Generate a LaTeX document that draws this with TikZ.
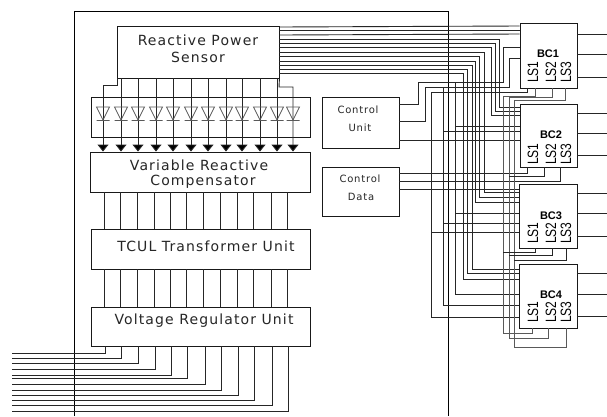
\documentclass[tikz,border=0pt]{standalone}
\usepackage{fontspec}
\setmainfont{DejaVu Sans}
\newfontfamily\lsfont{Liberation Sans}
\newfontfamily\capfont[LetterSpace=8]{DejaVu Sans}
\usetikzlibrary{arrows.meta}
\tikzset{
  box/.style={draw=black!90,line width=0.9pt,fill=white,rectangle,inner sep=0pt},
  wire/.style={draw=black!85,line width=0.9pt},
  graywire/.style={draw=black!65,line width=1pt},
  caption/.style={font=\capfont\fontsize{14}{16}\selectfont,inner sep=0pt,text=black!85},
  small caption/.style={font=\capfont\fontsize{10}{12}\selectfont,inner sep=0pt,text=black!85},
  bclabel/.style={font=\lsfont\bfseries\fontsize{11}{12}\selectfont,inner sep=0pt},
  lslabel/.style={font=\lsfont\fontsize{12}{12}\selectfont,inner sep=0pt,rotate=90},
  arrowwire/.style={wire,-{Triangle[length=7pt,width=11pt,fill=black]}},
  diodeshape/.style={draw=black!65,line width=0.8pt}
}
\begin{document}
\begin{tikzpicture}[x=1pt,y=-1pt]
\useasboundingbox (0,0) rectangle (607,416);
\fill[white] (0,0) rectangle (607,416);
\coordinate (R) at (607,0);
\coordinate (L) at (12,0);
% outer enclosure
\draw[wire,draw=black] (74,416) -- (74,11) -- (448,11) -- (448,416);
% boxes
\node[box,minimum width=162pt,minimum height=52pt] (sensor) at (198,52) {};
\node[box,minimum width=219pt,minimum height=40pt] (diodes) at (200.5,117) {};
\node[box,minimum width=220pt,minimum height=40pt] (variable) at (200,172) {};
\node[box,minimum width=219pt,minimum height=40pt] (tcul) at (200.5,249) {};
\node[box,minimum width=219pt,minimum height=39pt] (voltage) at (200.5,326.5) {};
\node[box,minimum width=77pt,minimum height=51pt] (cu) at (360.5,122.5) {};
\node[box,minimum width=77pt,minimum height=49pt] (cd) at (360.5,191.5) {};
\node[box,minimum width=57pt,minimum height=65pt] (bc1) at (548.5,55.5) {};
\node[box,minimum width=57pt,minimum height=63pt] (bc2) at (548.5,135.5) {};
\node[box,minimum width=58pt,minimum height=64pt] (bc3) at (548,216) {};
\node[box,minimum width=58pt,minimum height=64pt] (bc4) at (548,296) {};
% sensor to diode column
\draw[arrowwire] (sensor.south -| 117,0) -- (117,85) -- (103,85) -- (variable.north -| 103,0);
\foreach \x in {121,138,156,173,191,208,226,242,260,277}
  \draw[arrowwire] (sensor.south -| \x,0) -- (variable.north -| \x,0);
\draw[arrowwire] (sensor.south east) -- (279,87) -- (293,87) -- (variable.north -| 293,0);
% diodes
\foreach \x in {103,121,138,156,173,191,208,226,242,260,277,293}
  \draw[diodeshape] (\x-6.5,107) -- (\x+6.5,107) -- (\x,120) -- cycle (\x-6.5,120.5) -- (\x+6.5,120.5);
% vertical links
\foreach \x in {104,120,137,154,170,186,203,220,237,253,271,287} {
  \draw[wire] (variable.south -| \x,0) -- (tcul.north -| \x,0);
  \draw[wire] (tcul.south -| \x,0) -- (voltage.north -| \x,0);
}
% output bus
\foreach \x/\y in {105/353,121/358,138/363,155/369,171/375,187/378,205/384,221/390,238/395,254/400,272/405,288/411}
  \draw[wire] (voltage.south -| \x,0) |- (L |- 0,\y);
% sensor direct to BC1
\foreach \sy/\ey in {27/26,30/30,35/34}
  \draw[wire] (sensor.east |- 0,\sy) -- (bc1.west |- 0,\ey);
% sensor to BC2, BC3, BC4
\foreach \sy/\vx/\ey/\b in {39/499/107/bc2,43/495/111/bc2,47/491/115/bc2,52/484/192/bc3,56/479/197/bc3,61/475/202/bc3,65/472/269/bc4,69/467/273/bc4,73/463/279/bc4}
  \draw[wire] (sensor.east |- 0,\sy) -| (\vx,\ey) -- (\b.west |- 0,\ey);
% control unit
\draw[wire] (cu.east |- 0,104) -| (418,82) -| (503,47) -- (bc1.west |- 0,47);
\draw[wire] (cu.east |- 0,121) -| (425,87) -| (509,58) -- (bc1.west |- 0,58);
\draw[wire] (cu.east |- 0,140) -- (bc2.west |- 0,140);
\draw[wire] (bc1.south -| 527,0) |- (431,92) |- (bc4.west |- 0,317);
\draw[wire] (455,82) |- (bc4.west |- 0,294);
\draw[wire] (443,87) |- (bc4.west |- 0,305);
\draw[wire] (455,126) -- (bc2.west |- 0,126);
\draw[wire] (443,131) -- (bc2.west |- 0,131);
\draw[wire] (455,213) -- (bc3.west |- 0,213);
\draw[wire] (443,223) -- (bc3.west |- 0,223);
\draw[wire] (431,232) -- (bc3.west |- 0,232);
% control data
\draw[wire] (cd.east |- 0,173) -| (bc2.south -| 527,0);
\draw[wire] (cd.east |- 0,181) -| (bc2.south -| 560,0);
\draw[wire] (cd.east |- 0,189) -- (bc3.west |- 0,189);
% LS buses
\draw[graywire] (bc1.south -| 535,0) |- (503,96) -- (503,333) -| (bc4.south -| 532,0);
\draw[graywire] (bc1.south -| 552,0) |- (509,97) -- (509,338) -| (bc4.south -| 548,0);
\draw[graywire] (bc1.south -| 565,0) |- (514,100) -- (514,347) -| (bc4.south -| 566,0);
\draw[wire] (bc2.south -| 544,0) |- (509,176);
\draw[wire] (bc3.south -| 535,0) |- (503,252);
\draw[wire] (bc3.south -| 552,0) |- (509,255);
\draw[wire] (bc3.south -| 566,0) |- (514,260);
% right stubs
\foreach \b/\y in {bc1/34,bc1/54,bc1/77,bc2/113,bc2/133,bc2/155,bc3/193,bc3/213,bc3/236,bc4/273,bc4/294,bc4/316}
  \draw[wire] (\b.east |- 0,\y) -- (R |- 0,\y);
% texts
\node[caption] (t1) at (198,40) {Reactive Power};
\node[caption] (t2) at (198,57) {Sensor};
\node[caption] (t3) at (199,165) {Variable Reactive};
\node[caption] (t4) at (203,181.5) {Compensator};
\node[caption] (t5) at (206,246) {TCUL Transformer Unit};
\node[caption] (t6) at (204,321) {Voltage Regulator Unit};
\node[small caption] (t7) at (358,110) {Control};
\node[small caption] (t8) at (360,128) {Unit};
\node[small caption] (t9) at (360,179) {Control};
\node[small caption] (t10) at (361,197) {Data};
\foreach \n/\lab/\xx/\y/\ly in {b1/BC1/548/54/72,b2/BC2/551/135/154,b3/BC3/551/216/233,b4/BC4/551/295/312} {
  \node[bclabel] (\n) at (\xx,\y) {\lab};
  \node[lslabel] (\n a) at (533,\ly) {\scalebox{1}[1.25]{LS1}};
  \node[lslabel] (\n b) at (551,\ly) {\scalebox{1}[1.25]{LS2}};
  \node[lslabel] (\n c) at (566,\ly) {\scalebox{1}[1.25]{LS3}};
}
\end{tikzpicture}
\end{document}
